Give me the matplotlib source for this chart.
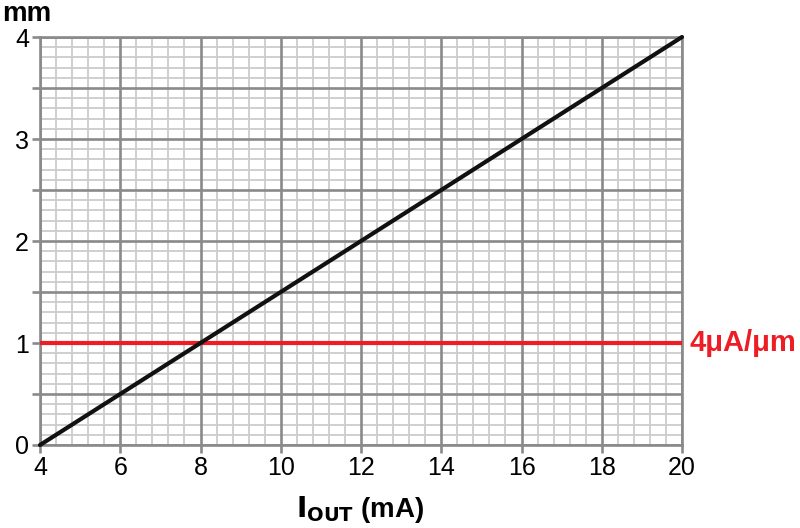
import matplotlib
matplotlib.use("Agg")
import matplotlib.pyplot as plt
import numpy as np
from matplotlib.ticker import MultipleLocator

plt.rcParams['font.family'] = ['Liberation Sans', 'DejaVu Sans']

# Data
iout_ma = [4, 20]
mm = [0, 4]
ref_level = 1
ref_label = "4μA/μm"
xticks = [4, 6, 8, 10, 12, 14, 16, 18, 20]
yticks = [0, 1, 2, 3, 4]

fig = plt.figure(figsize=(8, 5.28), dpi=100)
ax = fig.add_axes([0.05, 0.1572, 0.8025, 0.7727])

ax.set_xlim(4, 20)
ax.set_ylim(0, 4)

ax.xaxis.set_major_locator(MultipleLocator(2))
ax.xaxis.set_minor_locator(MultipleLocator(0.4))
ax.yaxis.set_major_locator(MultipleLocator(0.5))
ax.yaxis.set_minor_locator(MultipleLocator(0.1))

ax.set_axisbelow('line')  # axis (and major grid) at zorder 1.5

ax.set_xticks(xticks)
ax.set_xticklabels([str(t) for t in xticks])
ymaj = np.arange(0, 4.01, 0.5)
ax.set_yticks(ymaj)
ax.set_yticklabels([str(int(t)) if t == int(t) else '' for t in ymaj])

# minor grid drawn beneath the major grid
xmin_locs = ax.xaxis.get_minorticklocs()
ymin_locs = ax.yaxis.get_minorticklocs()
ax.vlines(xmin_locs, 0, 4, colors='#cccccc', linewidth=1.3, zorder=1)
ax.hlines(ymin_locs, 4, 20, colors='#cccccc', linewidth=1.3, zorder=1)

ax.grid(which='major', color='#8a8a8a', linewidth=1.9)

for s in ax.spines.values():
    s.set_color('#8a8a8a')
    s.set_linewidth(1.9)

ax.tick_params(which='major', length=6, width=1.9, color='#8a8a8a', labelsize=18, pad=2)
ax.tick_params(which='minor', length=0)

ax.plot(iout_ma, mm, color='#111111', linewidth=3, solid_capstyle='round', zorder=4, clip_on=False)
ax.axhline(ref_level, color='#ee1c24', linewidth=3, zorder=3)

ax.text(1.012, ref_level, ref_label, transform=ax.get_yaxis_transform(), color='#ee1c24',
        fontsize=21, fontweight='bold', va='center', ha='left')
fig.text(0.003, 0.998, "mm", fontsize=20, fontweight='bold', ha='left', va='top')
fig.text(0.45, 0.035, r"$\mathbf{I}_{\mathbf{OUT}}$ (mA)", fontsize=20, fontweight='bold', ha='center', va='center')

fig.savefig("out.png", dpi=100)
